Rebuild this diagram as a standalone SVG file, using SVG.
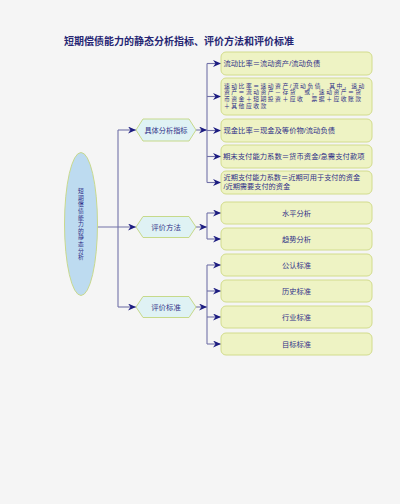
<svg xmlns="http://www.w3.org/2000/svg" width="400" height="504" viewBox="0 0 400 504">
<defs>
<marker id="arr" markerUnits="userSpaceOnUse" markerWidth="9" markerHeight="7" refX="8" refY="3.5" orient="auto">
<path d="M0,0 L8,3.5 L0,7 L2.5,3.5 Z" fill="#1c1c80"/>
</marker>
<style>
.t{font-family:"Liberation Sans","Noto Sans CJK SC",sans-serif;fill:#303088;}
.box{fill:#eef3c4;stroke:#d2dc8c;stroke-width:1;}
.hex{fill:#dff2f4;stroke:#c6d98a;stroke-width:1;}
.c{fill:none;stroke:#7272a8;stroke-width:1.1;}
.a{marker-end:url(#arr);}
</style>
</defs>
<rect x="0" y="0" width="400" height="504" fill="#f5f5f5"/>
<text class="t" x="64" y="44.5" font-size="10" font-weight="bold" style="fill:#262673">短期偿债能力的静态分析指标、评价方法和评价标准</text>

<g id="connectors">
<path class="c" d="M118,130 V307"/>
<path class="c a" d="M118,130 H136"/>
<path class="c a" d="M97,227 H136"/>
<path class="c a" d="M118,307 H136"/>
<path class="c a" d="M196,130 H207"/>
<path class="c a" d="M196,227 H207"/>
<path class="c a" d="M196,307 H207"/>
<path class="c" d="M207,63.5 V182.5"/>
<path class="c a" d="M207,63.5 H221"/>
<path class="c a" d="M207,96.5 H221"/>
<path class="c a" d="M207,130.5 H221"/>
<path class="c a" d="M207,156.5 H221"/>
<path class="c a" d="M207,182.5 H221"/>
<path class="c" d="M207,213 V239"/>
<path class="c a" d="M207,213 H221"/>
<path class="c a" d="M207,239 H221"/>
<path class="c" d="M207,265 V344"/>
<path class="c a" d="M207,265 H221"/>
<path class="c a" d="M207,291 H221"/>
<path class="c a" d="M207,317 H221"/>
<path class="c a" d="M207,344 H221"/>
</g>

<g id="root">
<ellipse cx="81" cy="224" rx="16.5" ry="71.5" fill="#bddbf0" stroke="#c8d98e" stroke-width="1"/>
<text class="t" font-size="5.8" text-anchor="middle"><tspan x="81" y="193.2">短</tspan><tspan x="81" dy="6.6">期</tspan><tspan x="81" dy="6.6">偿</tspan><tspan x="81" dy="6.6">债</tspan><tspan x="81" dy="6.6">能</tspan><tspan x="81" dy="6.6">力</tspan><tspan x="81" dy="6.6">的</tspan><tspan x="81" dy="6.6">静</tspan><tspan x="81" dy="6.6">态</tspan><tspan x="81" dy="6.6">分</tspan><tspan x="81" dy="6.6">析</tspan></text>
</g>

<g id="h1">
<polygon class="hex" points="136,130 143,119 189,119 196,130 189,141 143,141"/>
<text class="t" x="166" y="132.6" font-size="7.2" text-anchor="middle">具体分析指标</text>
</g>
<g id="h2">
<polygon class="hex" points="136,227 143,216.5 189,216.5 196,227 189,237.5 143,237.5"/>
<text class="t" x="166" y="229.6" font-size="7.4" text-anchor="middle">评价方法</text>
</g>
<g id="h3">
<polygon class="hex" points="136,307 143,296.5 189,296.5 196,307 189,317.5 143,317.5"/>
<text class="t" x="166" y="309.6" font-size="7.4" text-anchor="middle">评价标准</text>
</g>

<g id="b1">
<rect class="box" x="221" y="52" width="151" height="23" rx="5"/>
<text class="t" x="223.5" y="66.2" font-size="7.3">流动比率＝流动资产/流动负债</text>
</g>
<g id="b2">
<rect class="box" x="221" y="78" width="151" height="37" rx="5"/>
<text class="t" font-size="5.8" letter-spacing="1.5"><tspan x="224" y="87.7">速动比率＝速动资产/流动负债　其中，速动</tspan><tspan x="224" y="94.3">资产＝流动资产－存货　或，速动资产＝货</tspan><tspan x="224" y="100.9">币资金＋短期投资＋应收　票据＋应收账款</tspan><tspan x="224" y="107.5">＋其他应收款</tspan></text>
</g>
<g id="b3">
<rect class="box" x="221" y="119" width="151" height="23" rx="5"/>
<text class="t" x="223.5" y="133.2" font-size="7.3">现金比率＝现金及等价物/流动负债</text>
</g>
<g id="b4">
<rect class="box" x="221" y="145" width="151" height="23" rx="5"/>
<text class="t" x="223" y="159.2" font-size="7.35">期末支付能力系数＝货币资金/急需支付款项</text>
</g>
<g id="b5">
<rect class="box" x="221" y="171" width="151" height="23" rx="5"/>
<text class="t" font-size="7.2"><tspan x="223.5" y="180.3">近期支付能力系数＝近期可用于支付的资金</tspan><tspan x="223.5" y="188.8">/近期需要支付的资金</tspan></text>
</g>
<g id="b6">
<rect class="box" x="221" y="202" width="151" height="22" rx="5"/>
<text class="t" x="296.5" y="215.7" font-size="7.3" text-anchor="middle">水平分析</text>
</g>
<g id="b7">
<rect class="box" x="221" y="228" width="151" height="22" rx="5"/>
<text class="t" x="296.5" y="241.7" font-size="7.3" text-anchor="middle">趋势分析</text>
</g>
<g id="b8">
<rect class="box" x="221" y="254" width="151" height="22" rx="5"/>
<text class="t" x="296.5" y="267.7" font-size="7.3" text-anchor="middle">公认标准</text>
</g>
<g id="b9">
<rect class="box" x="221" y="280" width="151" height="22" rx="5"/>
<text class="t" x="296.5" y="293.7" font-size="7.3" text-anchor="middle">历史标准</text>
</g>
<g id="b10">
<rect class="box" x="221" y="306" width="151" height="22" rx="5"/>
<text class="t" x="296.5" y="319.7" font-size="7.3" text-anchor="middle">行业标准</text>
</g>
<g id="b11">
<rect class="box" x="221" y="333" width="151" height="22" rx="5"/>
<text class="t" x="296.5" y="346.7" font-size="7.3" text-anchor="middle">目标标准</text>
</g>
</svg>
